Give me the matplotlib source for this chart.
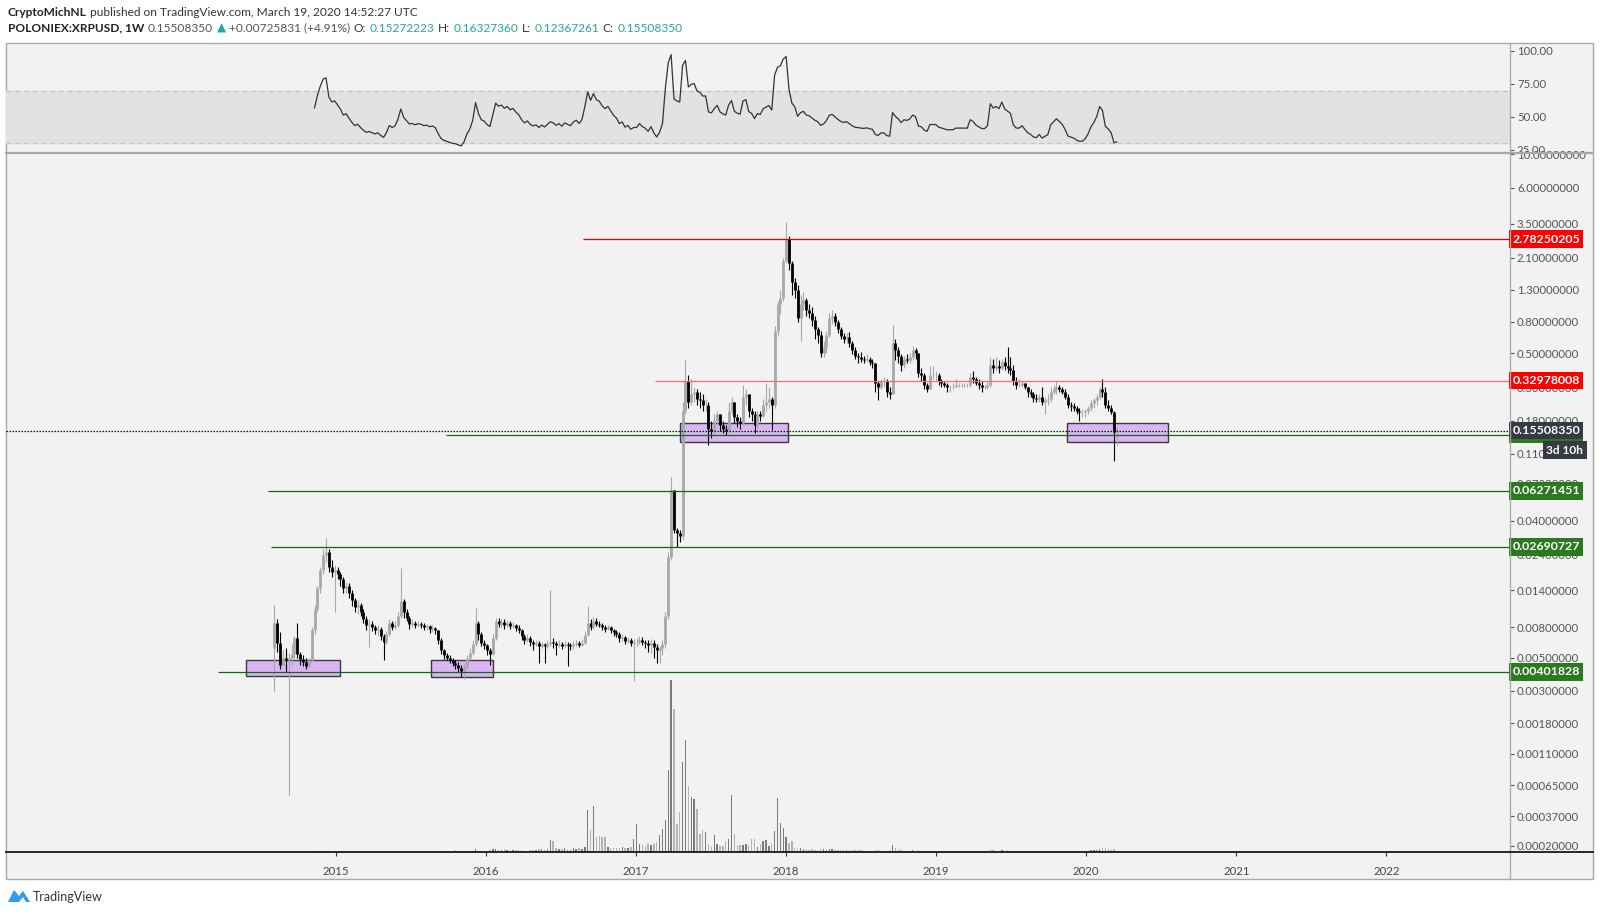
import numpy as np
import pandas as pd
import matplotlib
matplotlib.use("Agg")
import matplotlib.pyplot as plt
import matplotlib.dates as mdates
from matplotlib.patches import Rectangle, Polygon
from matplotlib.lines import Line2D
from matplotlib.transforms import blended_transform_factory

W, H = 1600, 915
FONT = ["Lato", "DejaVu Sans"]

# weekly candles POLONIEX:XRPUSD, first week starts 2014-08-04
first_open = 0.0058
close_2014 = [0.0085, 0.0063, 0.0045, 0.0050, 0.0048, 0.0050, 0.0053, 0.0068, 0.0053, 0.0049,
              0.0047, 0.0044, 0.0048, 0.0076, 0.0106, 0.0145, 0.0190, 0.0240, 0.0250, 0.0200,
              0.0185, 0.0190]
high_2014 = [0.0111, 0.0090, 0.0074, 0.0056, 0.0058, 0.0054, 0.0062, 0.0070, 0.0085, 0.0055,
             0.0052, 0.0050, 0.0050, 0.0080, 0.0112, 0.0150, 0.0200, 0.0260, 0.0310, 0.0260,
             0.0220, 0.0205]
low_2014 = [0.0030, 0.0055, 0.0042, 0.0044, 0.0040, 0.00055, 0.0044, 0.0050, 0.0050, 0.0045,
            0.0044, 0.0042, 0.0043, 0.0047, 0.0072, 0.0100, 0.0135, 0.0180, 0.0215, 0.0185,
            0.0170, 0.0100]

close_2015 = [0.0178, 0.0165, 0.0145, 0.0150, 0.0135, 0.0120, 0.0108, 0.0112, 0.0100, 0.0090,
              0.0082, 0.0084, 0.0080, 0.0076, 0.0078, 0.0070, 0.0064, 0.0072, 0.0085, 0.0080,
              0.0083, 0.0095, 0.0118, 0.0100, 0.0092, 0.0084, 0.0085, 0.0082, 0.0084, 0.0083,
              0.0080, 0.0081, 0.0078, 0.0079, 0.0076, 0.0066, 0.0056, 0.0052, 0.0050, 0.0048,
              0.0046, 0.0045, 0.0043, 0.0041, 0.0044, 0.0050, 0.0054, 0.0062, 0.0085, 0.0072,
              0.0063, 0.0061]
high_2015 = [0.0200, 0.0185, 0.0170, 0.0158, 0.0155, 0.0140, 0.0125, 0.0120, 0.0115, 0.0105,
             0.0095, 0.0090, 0.0088, 0.0083, 0.0082, 0.0080, 0.0072, 0.0075, 0.0090, 0.0088,
             0.0087, 0.0100, 0.0195, 0.0122, 0.0105, 0.0095, 0.0090, 0.0088, 0.0087, 0.0086,
             0.0085, 0.0084, 0.0082, 0.0082, 0.0080, 0.0077, 0.0068, 0.0057, 0.0054, 0.0052,
             0.0050, 0.0048, 0.0047, 0.0045, 0.0046, 0.0052, 0.0058, 0.0066, 0.0107, 0.0088,
             0.0074, 0.0066]
low_2015 = [0.0165, 0.0150, 0.0135, 0.0135, 0.0125, 0.0110, 0.0100, 0.0098, 0.0095, 0.0085,
            0.0077, 0.0059, 0.0075, 0.0072, 0.0070, 0.0066, 0.0048, 0.0062, 0.0070, 0.0076,
            0.0078, 0.0080, 0.0092, 0.0092, 0.0088, 0.0078, 0.0080, 0.0079, 0.0080, 0.0079,
            0.0076, 0.0077, 0.0073, 0.0074, 0.0072, 0.0062, 0.0053, 0.0049, 0.0048, 0.0046,
            0.0044, 0.0042, 0.0040, 0.0037, 0.0036, 0.0042, 0.0048, 0.0052, 0.0060, 0.0066,
            0.0060, 0.0057]

close_2016 = [0.0056, 0.0053, 0.0068, 0.0088, 0.0084, 0.0086, 0.0082, 0.0085, 0.0081, 0.0083,
              0.0079, 0.0076, 0.0070, 0.0066, 0.0068, 0.0064, 0.0062, 0.0063, 0.0060, 0.0062,
              0.0060, 0.0062, 0.0064, 0.0063, 0.0061, 0.0062, 0.0060, 0.0062, 0.0061, 0.0060,
              0.0062, 0.0063, 0.0061, 0.0063, 0.0071, 0.0085, 0.0080, 0.0088, 0.0084, 0.0083,
              0.0080, 0.0078, 0.0080, 0.0077, 0.0074, 0.0072, 0.0068, 0.0069, 0.0065, 0.0066,
              0.0063, 0.0064]
high_2016 = [0.0062, 0.0058, 0.0072, 0.0092, 0.0092, 0.0090, 0.0090, 0.0089, 0.0088, 0.0086,
             0.0084, 0.0082, 0.0078, 0.0072, 0.0072, 0.0070, 0.0066, 0.0066, 0.0065, 0.0064,
             0.0063, 0.0066, 0.0140, 0.0068, 0.0065, 0.0066, 0.0064, 0.0065, 0.0064, 0.0063,
             0.0065, 0.0066, 0.0065, 0.0067, 0.0075, 0.0110, 0.0090, 0.0093, 0.0092, 0.0087,
             0.0085, 0.0082, 0.0083, 0.0081, 0.0078, 0.0077, 0.0074, 0.0072, 0.0070, 0.0069,
             0.0068, 0.0067]
low_2016 = [0.0052, 0.0045, 0.0052, 0.0066, 0.0080, 0.0080, 0.0078, 0.0080, 0.0078, 0.0079,
            0.0075, 0.0073, 0.0066, 0.0062, 0.0064, 0.0060, 0.0056, 0.0060, 0.0046, 0.0058,
            0.0046, 0.0058, 0.0060, 0.0058, 0.0052, 0.0059, 0.0057, 0.0059, 0.0044, 0.0056,
            0.0057, 0.0060, 0.0059, 0.0060, 0.0062, 0.0070, 0.0077, 0.0078, 0.0081, 0.0080,
            0.0077, 0.0074, 0.0076, 0.0073, 0.0070, 0.0069, 0.0064, 0.0065, 0.0062, 0.0063,
            0.0060, 0.0035]

close_2017 = [0.0064, 0.0066, 0.0064, 0.0063, 0.0061, 0.0063, 0.0059, 0.0056, 0.0058, 0.0062,
              0.0095, 0.0230, 0.0640, 0.0350, 0.0330, 0.0320, 0.2100, 0.3300, 0.2400, 0.2700,
              0.2800, 0.2500, 0.2450, 0.2300, 0.2300, 0.1600, 0.1550, 0.1800, 0.2000, 0.1700,
              0.1600, 0.1550, 0.2100, 0.2400, 0.1900, 0.1800, 0.1750, 0.2600, 0.2700, 0.2100,
              0.2000, 0.1700, 0.2000, 0.1950, 0.2300, 0.2400, 0.2500, 0.2300, 0.7000, 1.0500,
              1.1500, 2.0000]
high_2017 = [0.0068, 0.0070, 0.0069, 0.0066, 0.0066, 0.0067, 0.0066, 0.0062, 0.0060, 0.0066,
             0.0100, 0.0250, 0.0770, 0.0640, 0.0360, 0.0350, 0.2400, 0.4500, 0.3600, 0.3400,
             0.3000, 0.2900, 0.2800, 0.2700, 0.2500, 0.2400, 0.1800, 0.2000, 0.2100, 0.2000,
             0.1800, 0.1700, 0.2400, 0.2600, 0.2400, 0.2000, 0.1900, 0.3100, 0.2900, 0.2700,
             0.2200, 0.2100, 0.2100, 0.2100, 0.2500, 0.3200, 0.3000, 0.2600, 0.7500, 1.1000,
             1.3000, 2.1000]
low_2017 = [0.0060, 0.0062, 0.0061, 0.0058, 0.0055, 0.0054, 0.0050, 0.0046, 0.0046, 0.0052,
            0.0058, 0.0090, 0.0220, 0.0330, 0.0270, 0.0290, 0.0300, 0.2000, 0.2200, 0.2300,
            0.2400, 0.2300, 0.2200, 0.2100, 0.2100, 0.1250, 0.1400, 0.1450, 0.1700, 0.1550,
            0.1500, 0.1450, 0.1500, 0.2000, 0.1750, 0.1650, 0.1600, 0.1700, 0.2300, 0.1900,
            0.1800, 0.1500, 0.1650, 0.1800, 0.1900, 0.2100, 0.2200, 0.1570, 0.2200, 0.6500,
            0.9000, 1.1000]

close_2018 = [2.7825, 1.9500, 1.4500, 1.3000, 0.8500, 1.0500, 1.1200, 0.9500, 0.9200, 0.8200,
              0.7200, 0.6600, 0.5000, 0.5500, 0.6600, 0.8500, 0.8800, 0.8000, 0.7200, 0.6500,
              0.6200, 0.6400, 0.5800, 0.5200, 0.4800, 0.4700, 0.4600, 0.4500, 0.4600, 0.4400,
              0.4300, 0.3200, 0.3000, 0.3300, 0.3300, 0.2800, 0.2700, 0.5800, 0.5200, 0.4800,
              0.4200, 0.4600, 0.4500, 0.4700, 0.5200, 0.5000, 0.3700, 0.3600, 0.3100, 0.2900,
              0.3600, 0.3600, 0.3600]
high_2018 = [3.6000, 2.9000, 2.0000, 1.5500, 1.4000, 1.2000, 1.2500, 1.1500, 1.0500, 1.0000,
             0.8800, 0.7400, 0.7000, 0.6000, 0.7000, 0.9200, 0.9500, 0.9200, 0.8200, 0.7400,
             0.6800, 0.6800, 0.6900, 0.6000, 0.5500, 0.5000, 0.5100, 0.4800, 0.4900, 0.4700,
             0.4600, 0.4300, 0.3300, 0.3400, 0.3500, 0.3400, 0.3000, 0.7600, 0.6200, 0.5500,
             0.4900, 0.4800, 0.4900, 0.5000, 0.5600, 0.5400, 0.5000, 0.4000, 0.3700, 0.3200,
             0.4100, 0.4100, 0.3800]
low_2018 = [1.9500, 1.7500, 1.2000, 1.1500, 0.8000, 0.6000, 0.9500, 0.8800, 0.8500, 0.7500,
            0.6200, 0.5800, 0.4700, 0.4700, 0.5000, 0.6400, 0.7800, 0.7500, 0.6800, 0.6200,
            0.5800, 0.5800, 0.5500, 0.4900, 0.4600, 0.4300, 0.4400, 0.4300, 0.4400, 0.4200,
            0.4000, 0.2800, 0.2470, 0.2900, 0.3000, 0.2600, 0.2500, 0.2700, 0.4500, 0.4300,
            0.3800, 0.4000, 0.4300, 0.4300, 0.4500, 0.4600, 0.3500, 0.3300, 0.2900, 0.2800,
            0.2900, 0.3400, 0.3300]

close_2019 = [0.330, 0.320, 0.310, 0.300, 0.300, 0.300, 0.310, 0.310, 0.310, 0.310,
              0.310, 0.350, 0.340, 0.320, 0.310, 0.300, 0.300, 0.310, 0.420, 0.400,
              0.410, 0.400, 0.440, 0.410, 0.400, 0.390, 0.330, 0.310, 0.310, 0.320,
              0.300, 0.280, 0.270, 0.255, 0.250, 0.260, 0.240, 0.245, 0.250, 0.280,
              0.290, 0.300, 0.290, 0.280, 0.260, 0.230, 0.225, 0.220, 0.210, 0.205,
              0.205, 0.210]
high_2019 = [0.370, 0.340, 0.330, 0.320, 0.310, 0.320, 0.340, 0.320, 0.320, 0.320,
             0.320, 0.370, 0.380, 0.350, 0.340, 0.330, 0.310, 0.330, 0.470, 0.460,
             0.470, 0.450, 0.460, 0.470, 0.550, 0.470, 0.420, 0.350, 0.340, 0.330,
             0.320, 0.300, 0.290, 0.280, 0.270, 0.270, 0.300, 0.260, 0.270, 0.300,
             0.310, 0.330, 0.310, 0.300, 0.290, 0.270, 0.240, 0.235, 0.225, 0.220,
             0.215, 0.215]
low_2019 = [0.310, 0.300, 0.300, 0.280, 0.280, 0.290, 0.300, 0.300, 0.300, 0.300,
            0.300, 0.300, 0.320, 0.310, 0.290, 0.280, 0.290, 0.290, 0.300, 0.370,
            0.380, 0.370, 0.390, 0.390, 0.370, 0.360, 0.310, 0.290, 0.300, 0.300,
            0.290, 0.260, 0.260, 0.240, 0.240, 0.240, 0.230, 0.200, 0.230, 0.240,
            0.270, 0.270, 0.280, 0.270, 0.250, 0.220, 0.210, 0.210, 0.200, 0.180,
            0.190, 0.190]

close_2020 = [0.220, 0.235, 0.245, 0.260, 0.290, 0.280, 0.230, 0.220, 0.205, 0.15272223, 0.15508350]
high_2020 = [0.225, 0.245, 0.255, 0.270, 0.300, 0.340, 0.300, 0.245, 0.230, 0.210, 0.16327360]
low_2020 = [0.200, 0.210, 0.220, 0.230, 0.250, 0.260, 0.220, 0.210, 0.200, 0.099, 0.12367261]

# weekly volume (relative units)
vol_2014 = [0.5, 0.4, 0.3, 0.3, 0.6, 0.4, 0.3, 0.4, 0.3, 0.3,
            0.2, 0.2, 0.3, 0.5, 0.6, 0.6, 0.8, 0.9, 0.8, 0.6,
            0.5, 0.5]
vol_2015 = [0.5, 0.4, 0.4, 0.4, 0.3, 0.3, 0.3, 0.3, 0.3, 0.3,
            0.3, 0.3, 0.3, 0.3, 0.3, 0.3, 0.4, 0.3, 0.3, 0.3,
            0.4, 0.5, 0.4, 0.3, 0.3, 0.3, 0.3, 0.3, 0.3, 0.3,
            0.3, 0.3, 0.3, 0.3, 0.3, 0.4, 0.5, 0.9, 1.4, 0.6,
            0.5, 1.6, 0.6, 0.5, 0.6, 0.7, 0.8, 1.2, 3.0, 0.9,
            0.8, 1.0]
vol_2016 = [1.2, 2.5, 2.8, 2.6, 1.8, 2.2, 3.0, 2.0, 1.5, 1.8,
            1.6, 1.8, 2.0, 1.5, 1.4, 2.0, 1.6, 1.8, 3.0, 3.5,
            2.5, 3.0, 12.0, 11.0, 4.0, 3.5, 3.0, 4.0, 3.0, 3.5,
            4.0, 3.0, 4.0, 3.5, 5.0, 42.0, 22.0, 46.0, 15.0, 16.0,
            15.0, 15.0, 5.0, 4.0, 4.5, 4.0, 4.0, 5.0, 4.0, 4.5,
            5.0, 13.0]
vol_2017 = [28.0, 8.0, 7.0, 6.0, 8.0, 7.0, 8.0, 10.0, 17.0, 23.0,
            32.0, 82.0, 172.0, 143.0, 28.0, 40.0, 90.0, 112.0, 66.0, 55.0,
            53.0, 43.0, 18.0, 22.0, 20.0, 8.0, 5.0, 17.0, 8.0, 6.0,
            6.0, 11.0, 13.0, 57.0, 18.0, 7.0, 7.0, 7.0, 8.0, 7.0,
            13.0, 13.0, 5.0, 8.0, 11.0, 12.0, 6.0, 9.0, 21.0, 54.0,
            29.0, 24.0]
vol_2018 = [15.0, 9.0, 11.0, 4.0, 3.5, 4.0, 3.0, 3.0, 2.5, 3.0,
            2.5, 2.5, 3.0, 3.0, 2.5, 3.5, 3.0, 2.5, 2.0, 2.0,
            2.0, 2.0, 2.0, 2.0, 1.8, 1.8, 1.8, 1.5, 1.5, 1.5,
            1.5, 2.0, 2.0, 1.5, 1.5, 1.5, 2.0, 7.0, 4.0, 3.0,
            2.0, 1.5, 1.5, 1.5, 2.0, 1.5, 2.0, 1.5, 1.5, 1.2,
            1.5, 1.2, 1.0]
vol_2019 = [1.0, 1.0, 0.8, 0.8, 0.8, 0.8, 1.0, 0.8, 0.8, 0.8,
            0.8, 1.2, 1.0, 1.0, 0.8, 0.8, 0.8, 1.0, 2.0, 1.8,
            1.5, 1.5, 1.8, 1.5, 2.0, 1.5, 1.5, 1.2, 1.0, 1.0,
            1.0, 1.2, 1.0, 1.0, 0.8, 0.8, 1.2, 1.2, 1.0, 1.5,
            1.2, 1.2, 1.0, 1.0, 1.0, 1.2, 1.0, 1.0, 1.2, 1.0,
            1.0, 1.0]
vol_2020 = [1.5, 2.0, 2.0, 2.5, 3.0, 4.0, 4.5, 3.0, 2.5, 3.0, 1.5]

# horizontal levels drawn on the chart
level_price = [2.78250205, 0.32978008, 0.14599631, 0.06271451, 0.02690727, 0.00401828]
level_start = ["2016-08-25", "2017-02-16", "2015-09-27", "2014-07-19", "2014-07-26", "2014-03-21"]
level_line = ["#e00000", "#f07070", "#0d6b0d", "#0d6b0d", "#0d6b0d", "#0d6b0d"]
level_box = ["#ff0000", "#ff0000", "#2b7a1f", "#2b7a1f", "#2b7a1f", "#2b7a1f"]

# purple zones
zone_start = ["2014-05-26", "2015-08-21", "2017-04-17", "2019-11-15"]
zone_end = ["2015-01-12", "2016-01-18", "2018-01-06", "2020-07-18"]
zone_low = [0.00375, 0.00372, 0.1306, 0.1306]
zone_high = [0.00482, 0.00482, 0.1753, 0.1745]

last_price = 0.15508350
price_ticks = [10, 6, 3.5, 2.1, 1.3, 0.8, 0.5, 0.3, 0.18, 0.11, 0.07, 0.04, 0.024,
               0.014, 0.008, 0.005, 0.003, 0.0018, 0.0011, 0.00065, 0.00037, 0.0002]
rsi_ticks = [25, 50, 75, 100]
years = [2015, 2016, 2017, 2018, 2019, 2020, 2021, 2022]

close = np.array(close_2014 + close_2015 + close_2016 + close_2017 + close_2018 + close_2019 + close_2020)
high = np.array(high_2014 + high_2015 + high_2016 + high_2017 + high_2018 + high_2019 + high_2020)
low = np.array(low_2014 + low_2015 + low_2016 + low_2017 + low_2018 + low_2019 + low_2020)
vol = np.array(vol_2014 + vol_2015 + vol_2016 + vol_2017 + vol_2018 + vol_2019 + vol_2020)
opens = np.concatenate([[first_open], close[:-1]])
dates = pd.date_range("2014-08-04", periods=len(close), freq="7D")
xd = mdates.date2num(dates)

# RSI 14 (Wilder)
delta = np.diff(close)
gain = np.clip(delta, 0, None)
loss = np.clip(-delta, 0, None)
n = 14
ag = gain[:n].mean()
al = loss[:n].mean()
rsi = [100 - 100 / (1 + ag / al)]
for g, l in zip(gain[n:], loss[n:]):
    ag = (ag * (n - 1) + g) / n
    al = (al * (n - 1) + l) / n
    rsi.append(100 - 100 / (1 + ag / al) if al > 0 else 100)
rsi = np.array(rsi)


def fwd(p):
    return np.log10(np.maximum(np.asarray(p, dtype=float) + 1e-4, 1e-12))


def inv(v):
    return 10 ** np.asarray(v, dtype=float) - 1e-4


fig = plt.figure(figsize=(W / 100, H / 100), dpi=100)
fig.patch.set_facecolor("white")


def fx(px):
    return px / W


def fy(py):
    return 1 - py / H


# chart frame background
fig.add_artist(Rectangle((fx(6), fy(879)), fx(1593) - fx(6), fy(43) - fy(879),
                         transform=fig.transFigure, facecolor="#f2f2f2",
                         edgecolor="#a9a9a9", lw=1.0, zorder=-5))

x0 = mdates.date2num(pd.Timestamp("2012-10-20"))
x1 = mdates.date2num(pd.Timestamp("2022-10-29"))

ax_rsi = fig.add_axes([fx(6), fy(153), fx(1510) - fx(6), (153 - 43) / H])
ax_vol = fig.add_axes([fx(6), fy(852), fx(1510) - fx(6), (852 - 153) / H])
ax_p = fig.add_axes([fx(6), fy(852), fx(1510) - fx(6), (852 - 153) / H], sharex=ax_vol)
for a in (ax_rsi, ax_vol, ax_p):
    a.set_facecolor("none")
    for s in a.spines.values():
        s.set_visible(False)
    a.set_xlim(x0, x1)

# RSI pane
ax_rsi.axhspan(30, 70, color="#e1e2e4", zorder=0)
for lvl in (30, 70):
    ax_rsi.axhline(lvl, color="#c4c4c4", lw=0.9, ls=(0, (4, 3)), zorder=1)
ax_rsi.plot(xd[n:], rsi, color="#333333", lw=0.9, zorder=3)
ax_rsi.set_ylim(22.7, 106)
ax_rsi.set_xticks([])
ax_rsi.yaxis.tick_right()
ax_rsi.set_yticks(rsi_ticks)
ax_rsi.set_yticklabels(["%.2f" % v for v in rsi_ticks])
ax_rsi.tick_params(axis="y", length=3, width=0.8, color="#555555", pad=2,
                   labelsize=8.2, labelcolor="#555555")

# volume
up = close >= opens
ax_vol.bar(xd, vol, width=3.5, color=np.where(up, "#7a7a7a", "#b4b4b4"), zorder=1)
ax_vol.set_ylim(0, vol.max() * 699 / 172)
ax_vol.set_yticks([])
ax_vol.tick_params(axis="x", which="both", bottom=False, labelbottom=False)

# price pane
ax_p.set_yscale("function", functions=(fwd, inv))
ax_p.set_ylim(0.000174, 10.16)

for s, e, lo, hi in zip(zone_start, zone_end, zone_low, zone_high):
    xs = mdates.date2num(pd.Timestamp(s))
    xe = mdates.date2num(pd.Timestamp(e))
    ax_p.add_patch(Rectangle((xs, lo), xe - xs, hi - lo, facecolor="#dbb4f4",
                             edgecolor="#3a3a3a", lw=1.0, zorder=2))

col = np.where(up, "#a6a8b0", "#000000")
ax_p.vlines(xd, low, high, colors=col, lw=0.8, zorder=3)
ax_p.vlines(xd, np.minimum(opens, close), np.maximum(opens, close), colors=col, lw=2.0, zorder=3)

for p, s, c in zip(level_price, level_start, level_line):
    xs = mdates.date2num(pd.Timestamp(s))
    ax_p.plot([xs, x1], [p, p], color=c, lw=0.9, zorder=4, solid_capstyle="butt")
ax_p.axhline(last_price, color="#111111", lw=0.9, ls=(0, (1.2, 1.2)), zorder=4)

ax_p.yaxis.tick_right()
ax_p.set_yticks(price_ticks)
ax_p.set_yticklabels(["%.8f" % v for v in price_ticks])
ax_p.yaxis.set_minor_locator(matplotlib.ticker.NullLocator())
ax_p.tick_params(axis="y", length=3, width=0.8, color="#555555", pad=2,
                 labelsize=8.2, labelcolor="#555555")
ax_p.set_xticks([mdates.date2num(pd.Timestamp("%d-01-01" % y)) for y in years])
ax_p.set_xticklabels([str(y) for y in years])
ax_p.tick_params(axis="x", length=3, width=0.8, color="#333333", pad=7,
                 labelsize=8.2, labelcolor="#444444")
for lab in ax_p.get_yticklabels() + ax_rsi.get_yticklabels() + ax_p.get_xticklabels():
    lab.set_family(FONT)

# price labels on the axis
tb = blended_transform_factory(ax_p.transAxes, ax_p.transData)
for p, c in zip(level_price, level_box):
    ax_p.text(1.0015, p, "%.8f" % p, transform=tb, ha="left", va="center", fontsize=8.9,
              color="white", fontweight="bold", family=FONT, clip_on=False, zorder=10,
              bbox=dict(boxstyle="square,pad=0.25", facecolor=c, edgecolor="none"))
ax_p.text(1.0015, last_price, "%.8f" % last_price, transform=tb, ha="left", va="center",
          fontsize=8.9, color="white", fontweight="bold", family=FONT, clip_on=False, zorder=10,
          bbox=dict(boxstyle="square,pad=0.25", facecolor="#363a45", edgecolor="none"))
fig.text(fx(1583), fy(450), "3d 10h", ha="right", va="center", fontsize=8.6, color="white",
         fontweight="bold", family=FONT, zorder=10,
         bbox=dict(boxstyle="square,pad=0.3", facecolor="#363a45", edgecolor="none"))

# frame lines
fig.add_artist(Line2D([fx(1510), fx(1510)], [fy(43), fy(879)], transform=fig.transFigure,
                      color="#a9a9a9", lw=0.9, zorder=6))
fig.add_artist(Line2D([fx(6), fx(1593)], [fy(153), fy(153)], transform=fig.transFigure,
                      color="#a9a9a9", lw=1.6, zorder=6))
fig.add_artist(Line2D([fx(6), fx(1593)], [fy(852), fy(852)], transform=fig.transFigure,
                      color="#131722", lw=1.3, zorder=6))

# header
r = fig.canvas.get_renderer()


def seq_text(x, y, parts, size):
    for s, c, w in parts:
        t = fig.text(fx(x), fy(y), s, color=c, fontsize=size, fontweight=w,
                     ha="left", va="center", family=FONT)
        x += t.get_window_extent(renderer=r).width + 3.5


teal = "#26a69a"
dark = "#333333"
seq_text(8, 12, [("CryptoMichNL", "#222222", "bold"),
                 ("published on TradingView.com, March 19, 2020 14:52:27 UTC", dark, "normal")], 8.6)
seq_text(8, 28, [("POLONIEX:XRPUSD, 1W", "#222222", "bold"), ("0.15508350", "#555555", "normal"),
                 ("\u25B2", teal, "normal"), ("+0.00725831 (+4.91%)", "#555555", "normal"),
                 ("O:", dark, "normal"), ("0.15272223", teal, "normal"),
                 ("H:", dark, "normal"), ("0.16327360", teal, "normal"),
                 ("L:", dark, "normal"), ("0.12367261", teal, "normal"),
                 ("C:", dark, "normal"), ("0.15508350", teal, "normal")], 8.6)

# footer logo
logo = [(8, 902), (14, 890), (19, 896), (23, 891), (30, 902), (26, 902), (23, 897), (19, 902)]
fig.add_artist(Polygon([(fx(a), fy(b)) for a, b in logo], closed=True, transform=fig.transFigure,
                       facecolor="#2e9af0", edgecolor="none"))
fig.text(fx(33), fy(897), "TradingView", ha="left", va="center", fontsize=9, color="#333333",
         family=FONT)

fig.savefig("out.png", dpi=100, facecolor="white")
